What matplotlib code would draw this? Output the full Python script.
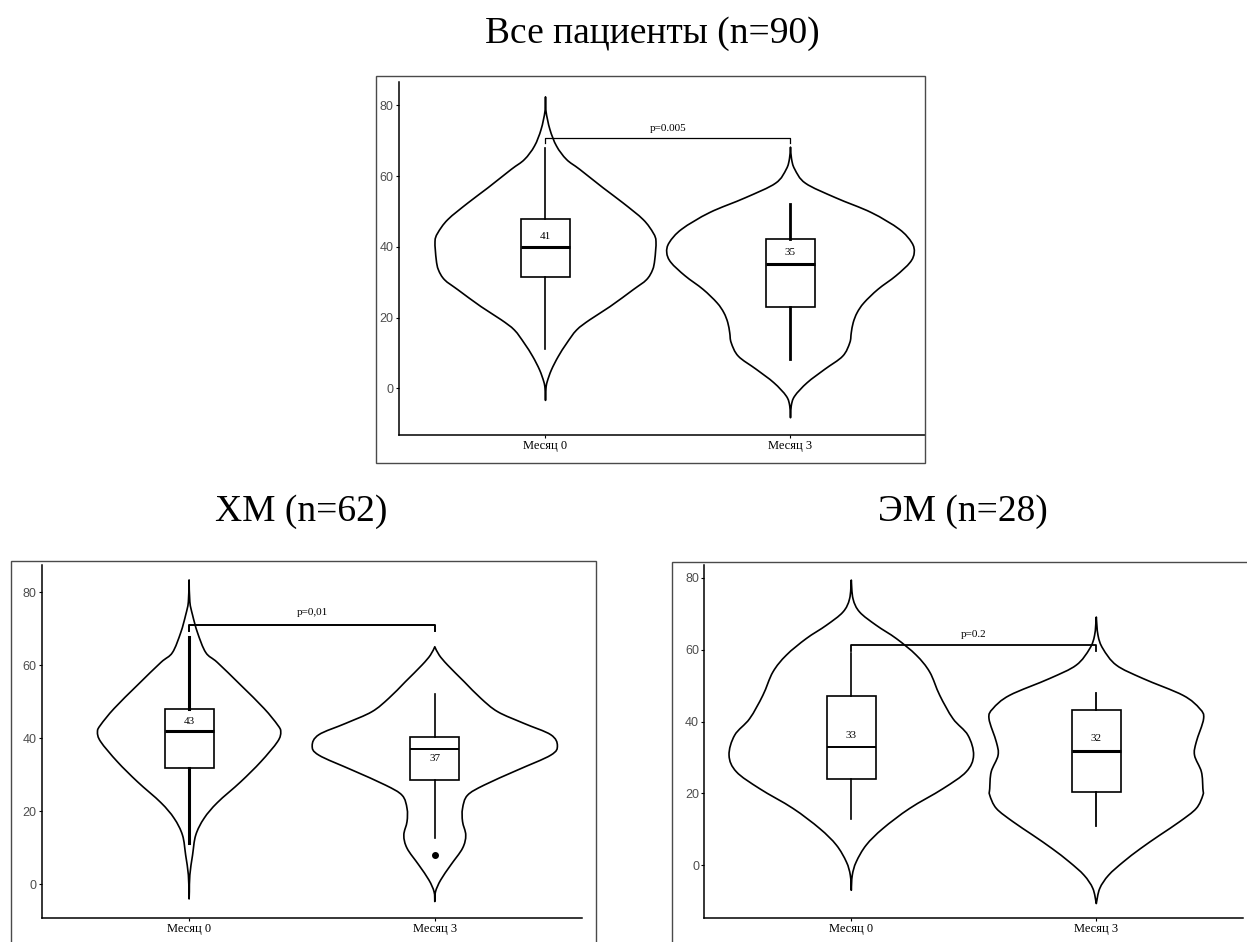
import numpy as np
import matplotlib
matplotlib.use("Agg")
import matplotlib.pyplot as plt
from matplotlib.patches import Rectangle, PathPatch
from matplotlib.path import Path

plt.rcParams['font.family'] = ['Liberation Serif', 'DejaVu Serif']

groups = ["Месяц 0", "Месяц 3"]
titles = ["Все пациенты (n=90)", "ХМ (n=62)", "ЭМ (n=28)"]
yticks = [0, 20, 40, 60, 80]

# --- Все пациенты ---
all_q1 = [31.5, 23.1]
all_med = [40.0, 35.1]
all_q3 = [48.0, 42.1]
all_lo = [11.0, 8.2]
all_hi = [68.0, 52.0]
all_fliers = [[], []]
all_labels = ["41", "35"]
all_label_y = [42.8, 38.4]
all_p = "p=0.005"
all_p_y = 73.6
all_bracket = 70.9
all_v0_y = [-3.4, 0.0, 1.9, 5.2, 9.0, 12.7, 16.5, 19.4, 23.1, 27.9, 30.7, 33.5, 36.4,
            41.5, 43.9, 47.7, 52.4, 56.7, 61.9, 64.7, 68.5, 73.2, 78.4, 82.4]
all_v0_w = [0.0, 0.002, 0.007, 0.024, 0.052, 0.086, 0.127, 0.181, 0.263, 0.358, 0.412, 0.437, 0.446,
            0.451, 0.440, 0.399, 0.317, 0.235, 0.140, 0.086, 0.045, 0.018, 0.002, 0.0]
all_v3_y = [-8.3, -5.0, -2.2, 1.6, 5.4, 9.1, 12.9, 15.7, 18.6, 21.4, 24.2, 28.0, 31.8,
            35.6, 38.4, 41.2, 45.0, 49.7, 53.9, 58.0, 62.0, 65.0, 68.2]
all_v3_w = [0.0, 0.003, 0.017, 0.068, 0.140, 0.213, 0.242, 0.248, 0.256, 0.272, 0.300, 0.357, 0.430,
            0.488, 0.505, 0.495, 0.444, 0.330, 0.184, 0.061, 0.017, 0.004, 0.0]

# --- ХМ ---
hm_q1 = [32.0, 28.5]
hm_med = [42.0, 37.0]
hm_q3 = [48.0, 40.4]
hm_lo = [11.2, 12.8]
hm_hi = [67.8, 52.1]
hm_fliers = [[], [8.0]]
hm_labels = ["43", "37"]
hm_label_y = [44.5, 34.5]
hm_p = "p=0,01"
hm_p_y = 74.6
hm_bracket = 71.1
hm_v0_y = [-4.0, -2.0, 2.6, 8.0, 13.5, 18.1, 22.4, 28.1, 33.6, 39.1, 41.8, 43.7, 48.2,
           54.6, 60.8, 63.5, 69.0, 73.8, 77.4, 83.4]
hm_v0_w = [0.0, 0.001, 0.003, 0.014, 0.027, 0.061, 0.115, 0.210, 0.292, 0.360, 0.373, 0.360, 0.305,
           0.210, 0.115, 0.068, 0.034, 0.014, 0.003, 0.0]
hm_v3_y = [-4.7, -2.0, 1.2, 5.3, 9.9, 13.5, 17.2, 20.8, 24.4, 27.2, 31.3, 35.4, 38.0,
           41.0, 44.1, 47.3, 51.0, 55.5, 60.1, 62.8, 65.1]
hm_v3_w = [0.0, 0.003, 0.024, 0.065, 0.113, 0.126, 0.113, 0.113, 0.133, 0.201, 0.336, 0.472, 0.499,
           0.472, 0.363, 0.256, 0.187, 0.120, 0.052, 0.018, 0.0]

# --- ЭМ ---
em_q1 = [24.0, 20.3]
em_med = [32.9, 31.9]
em_q3 = [47.0, 43.3]
em_lo = [12.9, 11.0]
em_hi = [59.0, 47.9]
em_fliers = [[], []]
em_labels = ["33", "32"]
em_label_y = [36.1, 35.3]
em_p = "p=0.2"
em_p_y = 64.3
em_bracket = 61.3
em_v0_y = [-7.0, -2.8, 0.9, 5.6, 10.2, 15.8, 21.3, 26.0, 30.6, 36.2, 40.8, 47.3, 53.8,
           58.5, 63.1, 66.8, 70.5, 74.2, 79.4]
em_v0_w = [0.0, 0.004, 0.020, 0.061, 0.129, 0.238, 0.374, 0.469, 0.499, 0.476, 0.415, 0.361, 0.320,
           0.265, 0.184, 0.102, 0.034, 0.007, 0.0]
em_v3_y = [-10.7, -6.5, -2.8, 0.9, 4.6, 8.4, 12.1, 15.8, 19.5, 21.3, 26.0, 30.6, 34.3,
           40.8, 43.6, 47.3, 52.0, 55.7, 60.3, 64.0, 69.1]
em_v3_w = [0.0, 0.014, 0.050, 0.110, 0.180, 0.260, 0.340, 0.408, 0.435, 0.435, 0.429, 0.401, 0.408,
           0.438, 0.422, 0.354, 0.190, 0.082, 0.027, 0.007, 0.0]

W, H = 1247, 942
fig = plt.figure(figsize=(W / 100, H / 100), dpi=100)


def px_axes(left, top, right, bottom):
    return fig.add_axes([left / W, 1 - bottom / H, (right - left) / W, (bottom - top) / H])


def frame(left, top, right, bottom):
    fig.patches.append(Rectangle((left / W, 1 - bottom / H), (right - left) / W, (bottom - top) / H,
                                 transform=fig.transFigure, fill=False, lw=1.0, edgecolor="#4a4a4a"))


def curve(xs, ys):
    # гладкая кривая через точки контура (Catmull-Rom -> кубические Безье)
    pts = np.column_stack([xs, ys])
    n = len(pts)
    verts, codes = [], []
    for i in range(n - 1):
        p0 = pts[max(i - 1, 0)]
        p1 = pts[i]
        p2 = pts[i + 1]
        p3 = pts[min(i + 2, n - 1)]
        verts += [p1 + (p2 - p0) / 6, p2 - (p3 - p1) / 6, p2]
        codes += [Path.CURVE4] * 3
    return verts, codes


def violin(ax, x, vy, vw):
    vy = np.array(vy)
    vw = np.array(vw)
    rv, rc = curve(x + vw, vy)
    lv, lc = curve((x - vw)[::-1], vy[::-1])
    verts = [(x, vy[0])] + rv + lv + [(x, vy[0])]
    codes = [Path.MOVETO] + rc + lc + [Path.CLOSEPOLY]
    ax.add_patch(PathPatch(Path(verts, codes), facecolor="white", edgecolor="black",
                           lw=1.2, zorder=1, joinstyle="round"))


def panel(ax, q1, med, q3, lo, hi, fliers, labels, label_y, vys, vws, p, p_y, br, xlim, ylim,
          whisk_lw, med_lw, br_lw):
    for i in range(2):
        violin(ax, i + 1, vys[i], vws[i])
    stats = []
    for i in range(2):
        stats.append(dict(med=med[i], q1=q1[i], q3=q3[i], whislo=lo[i], whishi=hi[i], fliers=fliers[i]))
    bp = ax.bxp(stats, positions=[1, 2], widths=0.2, showcaps=False, patch_artist=True,
                boxprops=dict(facecolor="white", edgecolor="black", lw=1.2),
                medianprops=dict(color="black", lw=2.0),
                whiskerprops=dict(color="black", lw=1.3),
                flierprops=dict(marker="o", markerfacecolor="black", markeredgecolor="black", markersize=4),
                zorder=2)
    for i in range(2):
        bp["whiskers"][2 * i].set_linewidth(whisk_lw[i])
        bp["whiskers"][2 * i + 1].set_linewidth(whisk_lw[i])
        bp["medians"][i].set_linewidth(med_lw[i])
        ax.text(i + 1, label_y[i], labels[i], ha="center", va="center", fontsize=8, zorder=3)
    # скобка сравнения
    ax.plot([1, 1, 2, 2], [br - 1.6, br, br, br - 1.6], color="black", lw=br_lw, zorder=3)
    ax.text(1.5, p_y, p, ha="center", va="center", fontsize=8)
    ax.set_xlim(*xlim)
    ax.set_ylim(*ylim)
    ax.set_xticks([1, 2])
    ax.set_xticklabels(groups, fontsize=9)
    ax.set_yticks(yticks)
    ax.set_yticklabels([str(t) for t in yticks], family=["Liberation Sans"], fontsize=9, color="#4d4d4d")
    for s in ["top", "right"]:
        ax.spines[s].set_visible(False)
    for s in ["left", "bottom"]:
        ax.spines[s].set_linewidth(1.1)
    ax.tick_params(length=2.2, width=0.8, pad=1.5)
    ax.patch.set_alpha(0)


ax1 = px_axes(398.5, 81.7, 925, 434.7)
panel(ax1, all_q1, all_med, all_q3, all_lo, all_hi, all_fliers, all_labels, all_label_y,
      [all_v0_y, all_v3_y], [all_v0_w, all_v3_w], all_p, all_p_y, all_bracket, (0.4, 2.549), (-13.1, 86.7),
      whisk_lw=[1.2, 2.0], med_lw=[2.2, 2.2], br_lw=0.9)

ax2 = px_axes(41.7, 565, 582.2, 918.3)
panel(ax2, hm_q1, hm_med, hm_q3, hm_lo, hm_hi, hm_fliers, hm_labels, hm_label_y,
      [hm_v0_y, hm_v3_y], [hm_v0_w, hm_v3_w], hm_p, hm_p_y, hm_bracket, (0.4, 2.6), (-9.3, 87.5),
      whisk_lw=[2.2, 1.2], med_lw=[2.2, 1.4], br_lw=1.4)

ax3 = px_axes(704.3, 565, 1243.3, 918.3)
panel(ax3, em_q1, em_med, em_q3, em_lo, em_hi, em_fliers, em_labels, em_label_y,
      [em_v0_y, em_v3_y], [em_v0_w, em_v3_w], em_p, em_p_y, em_bracket, (0.4, 2.6), (-14.8, 83.6),
      whisk_lw=[1.2, 1.3], med_lw=[1.4, 2.2], br_lw=1.3)

frame(376, 75.7, 925, 463.5)
frame(10.5, 561, 596, 960)
frame(671.7, 562, 1260, 960)

fig.text(652 / W, 1 - 43 / H, titles[0], ha="center", va="baseline", fontsize=27)
fig.text(301 / W, 1 - 521 / H, titles[1], ha="center", va="baseline", fontsize=27)
fig.text(963 / W, 1 - 521 / H, titles[2], ha="center", va="baseline", fontsize=27)

fig.savefig("out.png", dpi=100, facecolor="white")
